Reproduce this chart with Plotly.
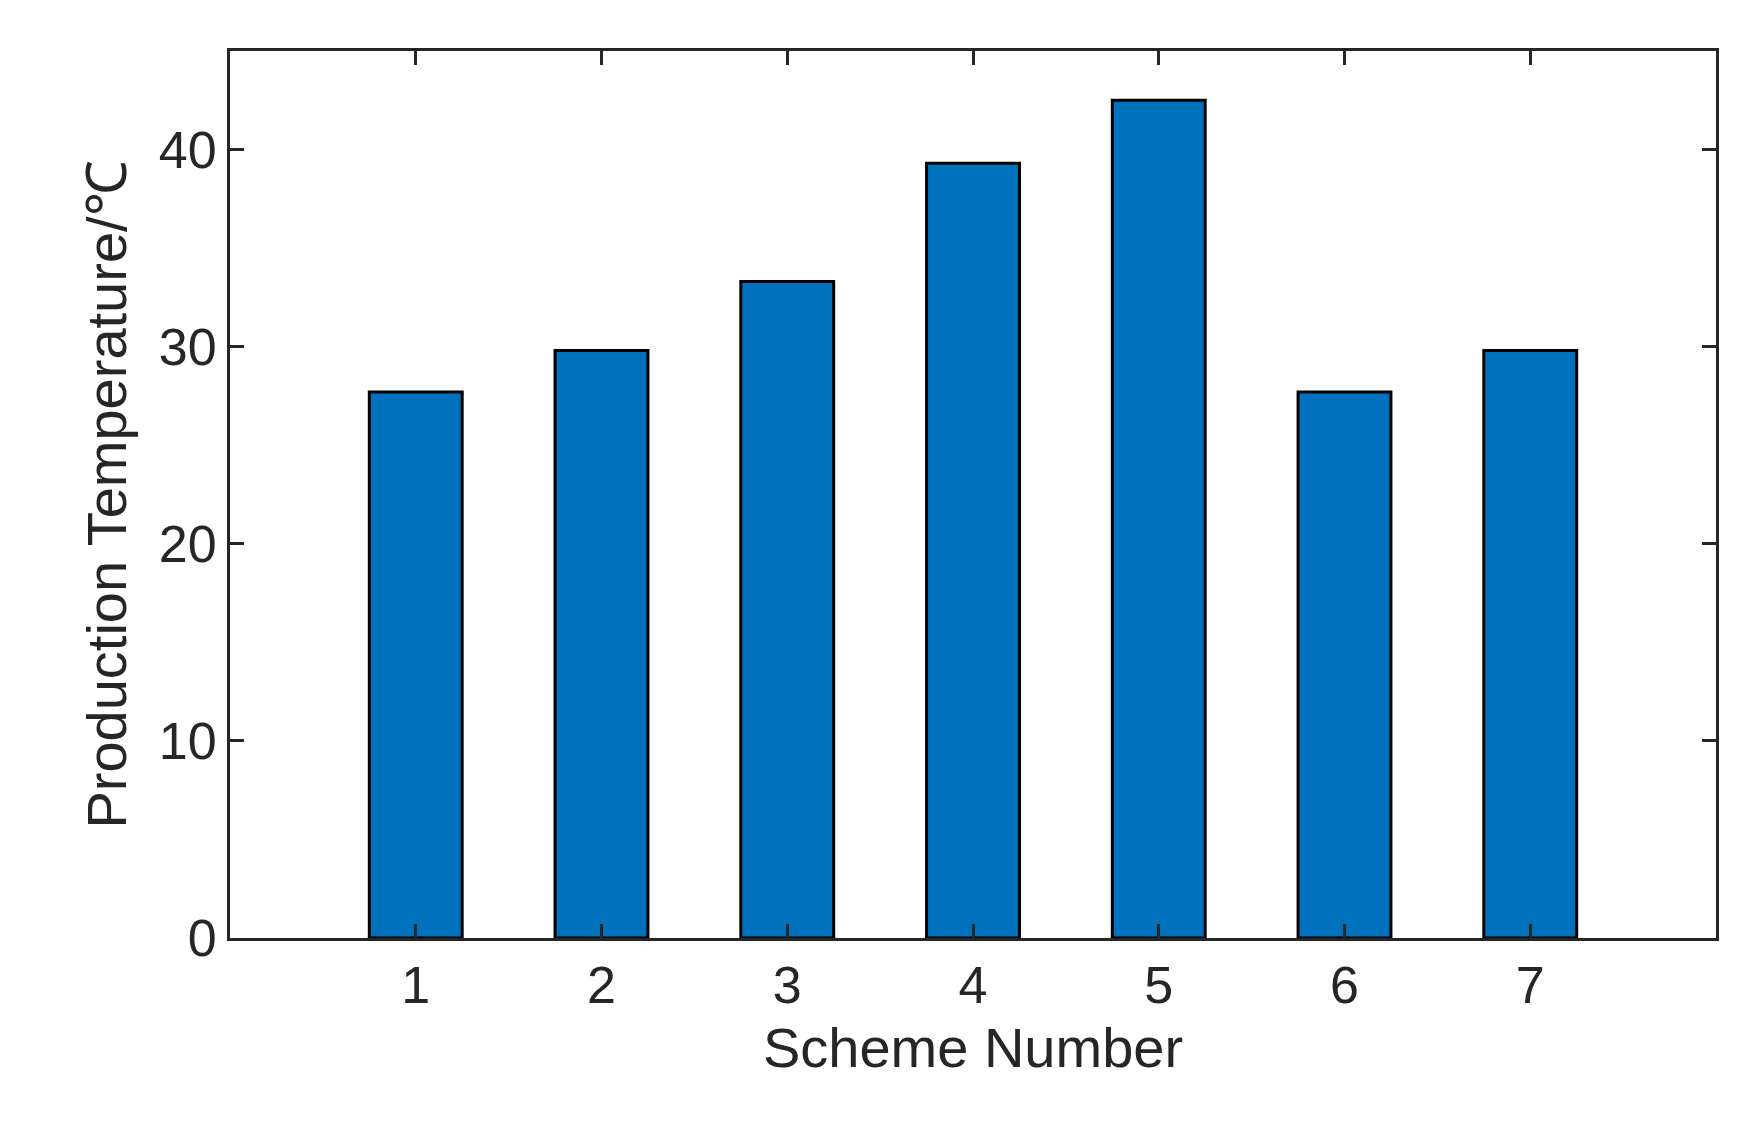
import plotly.graph_objects as go

schemes = [1, 2, 3, 4, 5, 6, 7]
temperatures = [27.7, 29.8, 33.3, 39.3, 42.5, 27.7, 29.8]

fig = go.Figure(go.Bar(
    x=schemes, y=temperatures, width=0.5,
    marker=dict(color='#0072BD', line=dict(color='black', width=3)),
))

axis_common = dict(
    showline=True, linecolor='#262626', linewidth=3, mirror='ticks',
    ticks='inside', ticklen=14, tickwidth=3, tickcolor='#262626',
    showgrid=False, zeroline=False,
    tickfont=dict(family='Arial, Liberation Sans', size=52, color='#262626'),
    title_font=dict(family='Arial, Liberation Sans', size=56, color='#262626'),
)

fig.update_xaxes(range=[0, 8], tickvals=schemes, title_text='Scheme Number', **axis_common)
fig.update_yaxes(range=[0, 45], tickvals=[0, 10, 20, 30, 40],
                 title_text='Production Temperature/℃', **axis_common)

fig.update_layout(
    width=1751, height=1133,
    margin=dict(l=222, r=43, t=43, b=203),
    plot_bgcolor='white', paper_bgcolor='white',
    showlegend=False,
)

fig.write_html("out.html")
